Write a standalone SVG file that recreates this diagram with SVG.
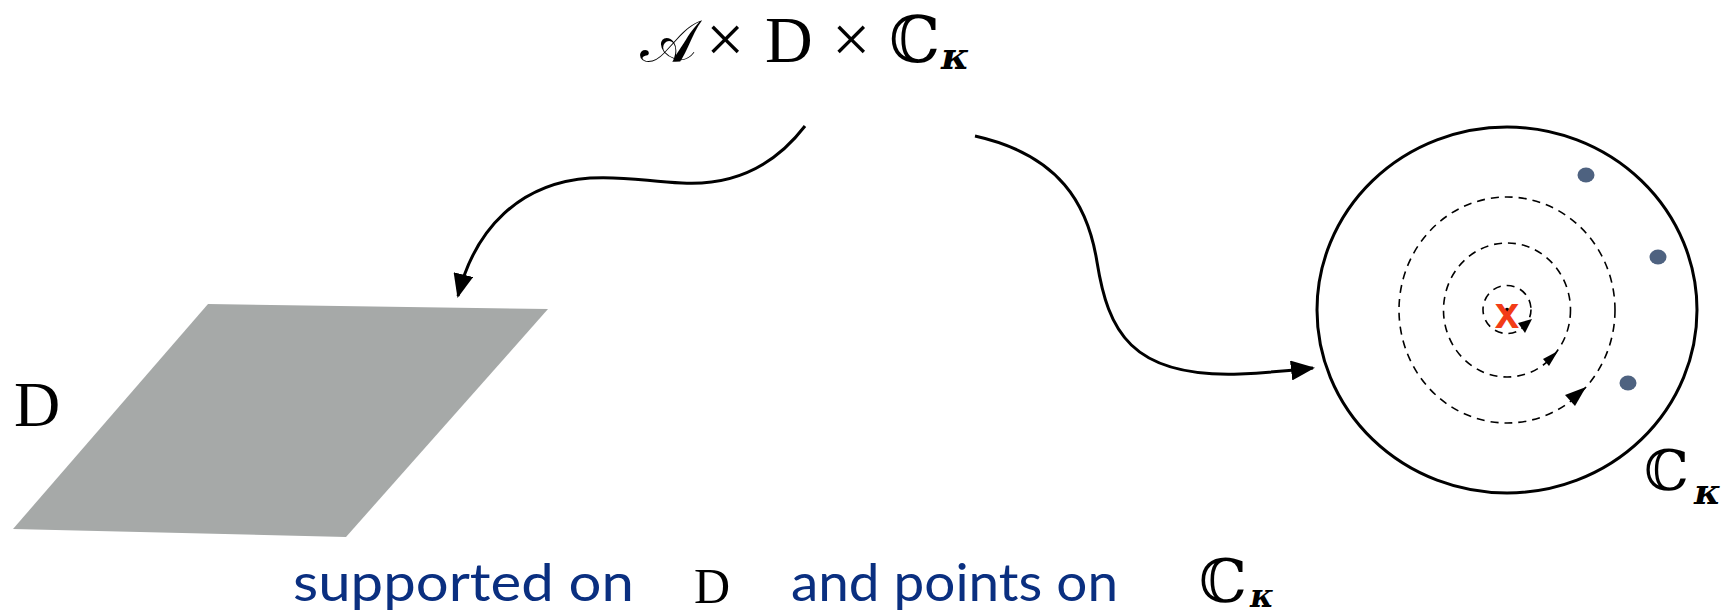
<svg xmlns="http://www.w3.org/2000/svg" width="1735" height="615" viewBox="0 0 1735 615">
<style>
.math{font-family:"DejaVu Serif","Liberation Serif",serif;fill:#000}
.rom{font-family:"Liberation Serif","DejaVu Serif",serif;fill:#000}
.kap{font-family:"DejaVu Serif","Liberation Serif",serif;font-style:italic;font-weight:bold;fill:#000}
.blue{font-family:Lato,"Open Sans",sans-serif;fill:#0a2f80}
.conn{fill:none;stroke:#000;stroke-width:3}
.dash{fill:none;stroke:#000;stroke-width:1.6;stroke-dasharray:8 6}
.dot{fill:#4e6280}
</style>
<defs>
<marker id="ah" markerUnits="userSpaceOnUse" markerWidth="24" markerHeight="20" viewBox="0 0 24 20" refX="22" refY="10" orient="auto">
<path d="M0,0 L24,10 L0,20 Z" fill="#000"/>
</marker>
</defs>
<rect width="1735" height="615" fill="#fff"/>

<g id="title">
<text class="math" x="640" y="62" font-size="60">𝒜</text>
<text class="rom" x="706" y="62" font-size="68">×</text>
<text class="rom" x="765" y="62" font-size="66">D</text>
<text class="rom" x="832" y="62" font-size="68">×</text>
<text class="math" x="889" y="62" font-size="64">ℂ</text>
<text class="kap" x="941" y="69" font-size="38">κ</text>
</g>

<g id="plane">
<polygon points="208,304 548,309 346,537 13,529" fill="#a6a9a8"/>
<text class="rom" x="14" y="426" font-size="64">D</text>
</g>

<g id="disc">
<ellipse cx="1507" cy="310" rx="190" ry="183" fill="none" stroke="#000" stroke-width="3"/>
<ellipse class="dash" cx="1507" cy="310" rx="108" ry="113"/>
<ellipse class="dash" cx="1507" cy="310" rx="63.5" ry="67"/>
<circle class="dash" cx="1507" cy="309.5" r="24"/>
<polygon points="1518,323 1532,319 1525,333" fill="#000"/>
<polygon points="1558,351 1543,359 1549,366" fill="#000"/>
<polygon points="1586,387 1565,395 1575,406" fill="#000"/>
<circle cx="1507" cy="310" r="2.2" fill="#000"/>
<text x="1507" y="328" font-family="Liberation Sans,Arial,sans-serif" font-weight="bold" font-size="44" fill="#f23c17" text-anchor="middle">x</text>
<ellipse class="dot" cx="1586" cy="175" rx="8.5" ry="7.5"/>
<ellipse class="dot" cx="1658" cy="257" rx="8.5" ry="7.5"/>
<ellipse class="dot" cx="1628" cy="383" rx="8.5" ry="7.5"/>
<text class="math" x="1644" y="490" font-size="56">ℂ</text>
<text class="kap" x="1694" y="504" font-size="36">κ</text>
</g>

<g id="caption">
<text class="blue" x="293" y="601" font-size="52" textLength="341" lengthAdjust="spacingAndGlyphs">supported on</text>
<text class="rom" x="694" y="603" font-size="50">D</text>
<text class="blue" x="791" y="601" font-size="52" textLength="327" lengthAdjust="spacingAndGlyphs">and points on</text>
<text class="math" x="1199" y="602" font-size="60">ℂ</text>
<text class="kap" x="1250" y="607" font-size="32">κ</text>
</g>

<g id="connectors">
<path class="conn" d="M805,126 C775,165 735,186 682,183 C645,181 625,176 590,178 C520,183 475,228 458,296" marker-end="url(#ah)"/>
<path class="conn" d="M975,136 C1060,155 1088,205 1097,262 C1108,330 1130,378 1240,374 Q1278,372 1313,368" marker-end="url(#ah)"/>
</g>
</svg>
